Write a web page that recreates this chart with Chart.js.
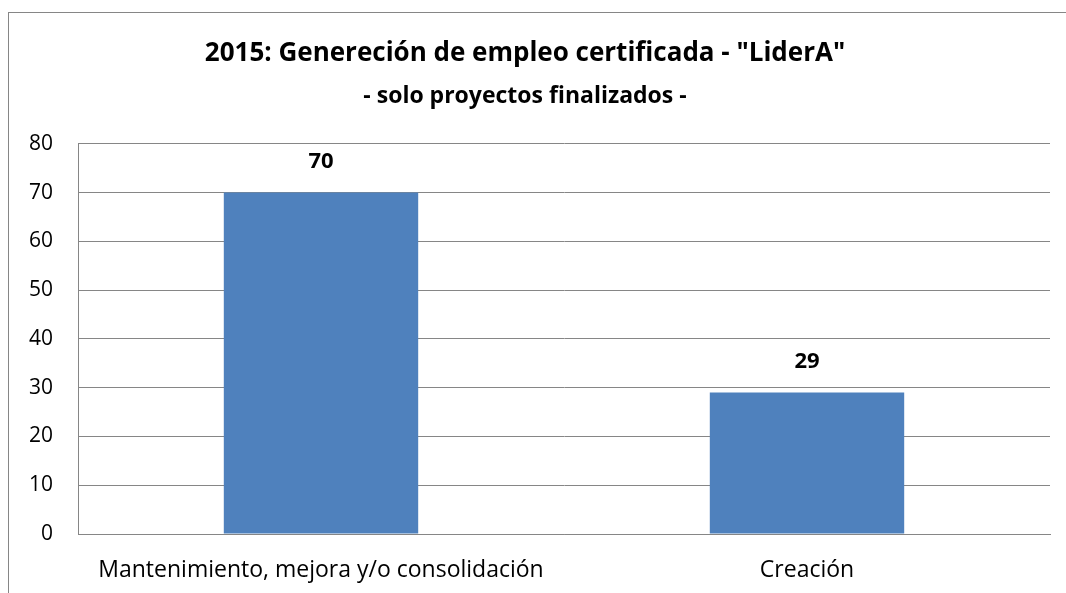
<!DOCTYPE html>
<html>
<head>
<meta charset="utf-8">
<script src="https://cdn.jsdelivr.net/npm/chart.js@4"></script>
<style>
  html, body { margin: 0; padding: 0; background: #fff; }
  #wrap { width: 1066px; height: 593px; position: relative; }
</style>
</head>
<body>
<div id="wrap"><canvas id="chart"></canvas></div>
<script>
// Chart data
const categories = ['Mantenimiento, mejora y/o consolidación', 'Creación'];
const values = [70, 29];
const yTicks = [0, 10, 20, 30, 40, 50, 60, 70, 80];

const FONT = '"Open Sans", Lato, sans-serif';

// outer frame like the Excel chart border
const framePlugin = {
    id: 'frame',
    beforeDraw(chart) {
        const c = chart.ctx;
        c.save();
        c.strokeStyle = '#868686';
        c.lineWidth = 1;
        c.strokeRect(8.5, 12.5, chart.width + 20, chart.height + 20);
        c.restore();
    }
};

// value labels above bars
const valueLabels = {
    id: 'valueLabels',
    afterDatasetsDraw(chart) {
        const c = chart.ctx;
        const meta = chart.getDatasetMeta(0);
        c.save();
        c.font = 'bold 22px ' + FONT;
        c.fillStyle = '#000';
        c.textAlign = 'center';
        c.textBaseline = 'middle';
        meta.data.forEach((bar, i) => {
            c.fillText(values[i], bar.x, bar.y - 31);
        });
        c.restore();
    }
};

const ctx = document.getElementById('chart').getContext('2d');
new Chart(ctx, {
    type: 'bar',
    data: {
        labels: categories,
        datasets: [{
            data: values,
            backgroundColor: '#4F81BD',
            borderWidth: 0,
            categoryPercentage: 0.4,
            barPercentage: 1
        }]
    },
    options: {
        responsive: true,
        maintainAspectRatio: false,
        animation: false,
        layout: { padding: { left: 0, right: 16, top: 0, bottom: 0 } },
        plugins: {
            legend: { display: false },
            tooltip: { enabled: false },
            title: {
                display: true,
                text: '2015: Genereción de empleo certificada - "LiderA"',
                color: '#000',
                font: { family: FONT, size: 26, weight: 'bold' },
                padding: { top: 38, bottom: 11 }
            },
            subtitle: {
                display: true,
                text: '- solo proyectos finalizados -',
                color: '#000',
                font: { family: FONT, size: 23, weight: 'bold' },
                padding: { top: 2, bottom: 34 }
            }
        },
        scales: {
            x: {
                grid: { display: false, drawTicks: false },
                border: { display: true, color: '#868686', width: 1 },
                ticks: { color: '#000', font: { family: FONT, size: 23 }, padding: 23, maxRotation: 0 },
                afterFit(scale) { scale.height = 59; }
            },
            y: {
                min: 0,
                max: 80,
                afterBuildTicks(scale) { scale.ticks = yTicks.map(v => ({ value: v })); },
                grid: { color: '#868686', drawTicks: false },
                border: { display: true, color: '#868686', width: 1 },
                ticks: { color: '#000', font: { family: FONT, size: 21 }, padding: 25 },
                afterFit(scale) { scale.width = 78; }
            }
        }
    },
    plugins: [framePlugin, valueLabels]
});
</script>
</body>
</html>
